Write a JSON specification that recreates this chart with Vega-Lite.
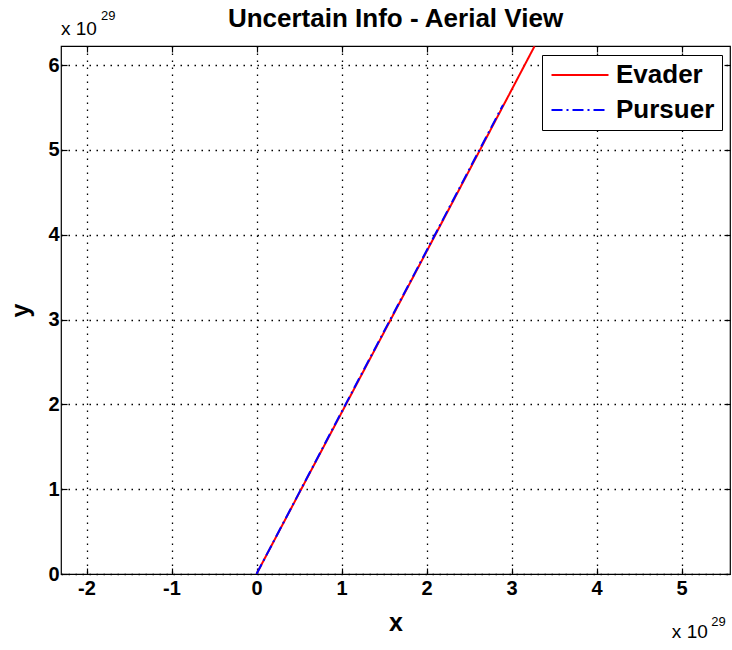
{
  "$schema": "https://vega.github.io/schema/vega-lite/v6.json",
  "width": 669,
  "height": 528,
  "autosize": "none",
  "padding": {"left": 61, "top": 46, "right": 2, "bottom": 76},
  "background": "white",
  "config": {
    "font": "Liberation Sans",
    "view": {"stroke": "black", "strokeWidth": 1.2},
    "axis": {
      "labelFont": "Liberation Sans", "labelFontWeight": "bold", "labelFontSize": 20, "labelColor": "black",
      "titleFont": "Liberation Sans", "titleFontWeight": "bold", "titleFontSize": 25, "titleColor": "black",
      "domain": false, "tickColor": "black", "tickSize": -6, "tickWidth": 1.2,
      "gridColor": "black", "gridDash": [1.5, 5.5], "gridOpacity": 1, "gridWidth": 1.3
    }
  },
  "datasets": {
    "paths": [
      {"series": "Evader", "order": 0, "x": 0.0, "y": 0.0},
      {"series": "Evader", "order": 1, "x": 1.0, "y": 1.9},
      {"series": "Evader", "order": 2, "x": 2.0, "y": 3.8},
      {"series": "Evader", "order": 3, "x": 3.27, "y": 6.22},
      {"series": "Pursuer", "order": 0, "x": 0.0, "y": 0.0},
      {"series": "Pursuer", "order": 1, "x": 1.0, "y": 1.91},
      {"series": "Pursuer", "order": 2, "x": 2.0, "y": 3.81},
      {"series": "Pursuer", "order": 3, "x": 2.9, "y": 5.53}
    ]
  },
  "layer": [
    {
      "data": {"name": "paths"},
      "mark": {"type": "line", "strokeWidth": 2, "clip": true},
      "encoding": {
        "x": {"field": "x", "type": "quantitative", "scale": {"domain": [-2.3, 5.57], "nice": false, "zero": false},
              "axis": {"values": [-2, -1, 0, 1, 2, 3, 4, 5], "title": "x", "grid": true, "labelPadding": 10, "titlePadding": 12, "orient": "bottom",
                       "labelExpr": "datum.value < 0 ? '-' + abs(datum.value) : '' + datum.value"}},
        "y": {"field": "y", "type": "quantitative", "scale": {"domain": [0, 6.224], "nice": false, "zero": false},
              "axis": {"values": [0, 1, 2, 3, 4, 5, 6], "title": "y", "grid": true, "labelPadding": 8, "titlePadding": 14, "orient": "left"}},
        "order": {"field": "order", "type": "quantitative"},
        "color": {"field": "series", "type": "nominal", "scale": {"domain": ["Evader", "Pursuer"], "range": ["#ff0000", "#0000ff"]},
                  "legend": {"title": null, "orient": "none", "legendX": 481, "legendY": 9, "symbolType": "M-3,0H3", "symbolSize": 361, "symbolStrokeWidth": 2, "symbolOffset": 18,
                             "labelFont": "Liberation Sans", "labelFontSize": 26, "labelFontWeight": "bold", "labelColor": "black",
                             "strokeColor": "black", "fillColor": "white", "padding": 7, "rowPadding": 9, "labelOffset": 23}},
        "strokeDash": {"field": "series", "type": "nominal", "scale": {"domain": ["Evader", "Pursuer"], "range": [[1, 0], [11, 4, 2, 4]]}, "legend": null}
      }
    },
    {
      "data": {"values": [{"a": 1}]},
      "mark": {"type": "rule", "opacity": 0},
      "encoding": {
        "x": {"datum": 0, "type": "quantitative", "axis": {"orient": "top", "values": [-2, -1, 0, 1, 2, 3, 4, 5], "labels": false, "title": null, "grid": false}},
        "y": {"datum": 0, "type": "quantitative", "axis": {"orient": "right", "values": [0, 1, 2, 3, 4, 5, 6], "labels": false, "title": null, "grid": false}}
      }
    },
    {
      "data": {"values": [{"t": "Uncertain Info - Aerial View"}]},
      "mark": {"type": "text", "fontSize": 26, "fontWeight": "bold", "font": "Liberation Sans", "align": "center", "baseline": "alphabetic", "color": "black", "clip": false},
      "encoding": {"x": {"datum": 1.635, "type": "quantitative", "axis": null}, "y": {"datum": 6.448, "type": "quantitative", "axis": null}, "text": {"field": "t"}}
    },
    {
      "data": {"values": [{"t": "x 10"}]},
      "mark": {"type": "text", "fontSize": 19, "font": "Liberation Sans", "align": "left", "baseline": "alphabetic", "color": "black", "clip": false},
      "encoding": {"x": {"datum": -2.3, "type": "quantitative", "axis": null}, "y": {"datum": 6.354, "type": "quantitative", "axis": null}, "text": {"field": "t"}}
    },
    {
      "data": {"values": [{"t": "29"}]},
      "mark": {"type": "text", "fontSize": 13, "font": "Liberation Sans", "align": "left", "baseline": "alphabetic", "color": "black", "clip": false},
      "encoding": {"x": {"datum": -1.83, "type": "quantitative", "axis": null}, "y": {"datum": 6.53, "type": "quantitative", "axis": null}, "text": {"field": "t"}}
    },
    {
      "data": {"values": [{"t": "x 10"}]},
      "mark": {"type": "text", "fontSize": 19, "font": "Liberation Sans", "align": "left", "baseline": "alphabetic", "color": "black", "clip": false},
      "encoding": {"x": {"datum": 4.886, "type": "quantitative", "axis": null}, "y": {"datum": -0.754, "type": "quantitative", "axis": null}, "text": {"field": "t"}}
    },
    {
      "data": {"values": [{"t": "29"}]},
      "mark": {"type": "text", "fontSize": 13, "font": "Liberation Sans", "align": "left", "baseline": "alphabetic", "color": "black", "clip": false},
      "encoding": {"x": {"datum": 5.35, "type": "quantitative", "axis": null}, "y": {"datum": -0.613, "type": "quantitative", "axis": null}, "text": {"field": "t"}}
    }
  ],
  "resolve": {"axis": {"x": "independent", "y": "independent"}}
}
